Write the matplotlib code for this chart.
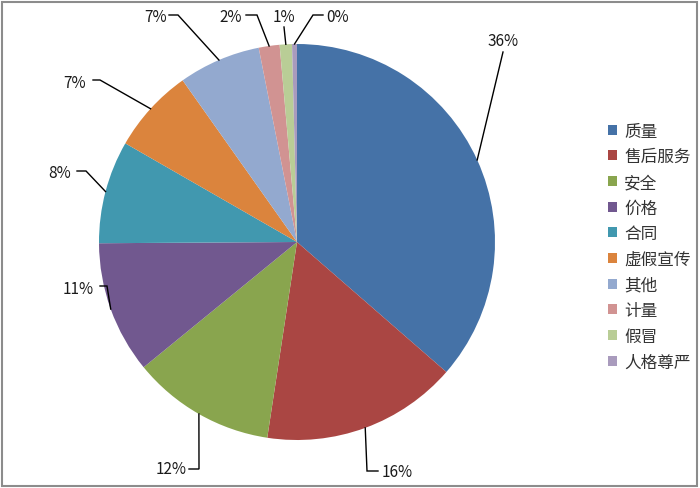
import numpy as np
import matplotlib
matplotlib.use("Agg")
import matplotlib.pyplot as plt
from matplotlib.patches import Rectangle

plt.rcParams['font.family'] = ['Noto Sans CJK SC', 'DejaVu Sans']

# data
categories = ['质量', '售后服务', '安全', '价格', '合同', '虚假宣传', '其他', '计量', '假冒', '人格尊严']
shares = [36.4, 16.0, 11.7, 10.8, 8.4, 6.9, 6.7, 1.7, 1.0, 0.4]
colors = ['#4572A7', '#AA4643', '#89A54E', '#71588F', '#4198AF',
          '#DB843D', '#93A9CF', '#D19392', '#B9CD96', '#A99BBD']

# pie geometry in pixels (center, radius) -> data units
cx, cy, r = 297, 243, 198
W, H = 700, 489

def px(x, y):
    return ((x - cx) / r, (cy - y) / r)

# label layout: text center, then leader points after the slice edge (pixels)
label_text = [(503, 42), (397, 473), (171, 470), (78, 289), (60, 173),
              (75, 83), (156, 17), (231, 17), (284, 17), (338, 17)]
label_path = [[(503, 53)],
              [(367, 472), (378, 472)],
              [(199, 470), (189, 470)],
              [(107, 287), (100, 287)],
              [(86, 172), (77, 172)],
              [(100, 81), (93, 81)],
              [(178, 16), (169, 16)],
              [(257, 16), (246, 16)],
              [(284, 28)],
              [(313, 16), (323, 16)]]

fig = plt.figure(figsize=(7, 4.89), dpi=100)
ax = fig.add_axes([0, 0, 1, 1])

wedges, _ = ax.pie(shares, colors=colors, startangle=90, counterclock=False,
                   radius=1, center=(0, 0), wedgeprops=dict(linewidth=0))

total = sum(shares)
for i, w in enumerate(wedges):
    mid = np.deg2rad((w.theta1 + w.theta2) / 2)
    pts = [(np.cos(mid), np.sin(mid))] + [px(*p) for p in label_path[i]]
    xs, ys = zip(*pts)
    ax.plot(xs, ys, color='black', lw=1.0, solid_joinstyle='miter')
    tx, ty = px(*label_text[i])
    ax.text(tx, ty, '{:.0f}%'.format(shares[i] / total * 100),
            ha='center', va='center', fontsize=11, color='#1a1a1a')

x0, y0 = px(0, H)
x1, y1 = px(W, 0)
ax.set_xlim(x0, x1)
ax.set_ylim(y0, y1)
ax.set_aspect('auto')
ax.axis('off')

leg = ax.legend(wedges, categories, loc='upper left',
                bbox_to_anchor=(601 / W, 1 - 117 / H), frameon=False,
                fontsize=12, handlelength=0.55, handleheight=0.55,
                handletextpad=0.45, labelspacing=0.52, borderaxespad=0)
for t in leg.get_texts():
    t.set_color('#333333')

fig.patches.append(Rectangle((2 / W, 2 / H), 1 - 5 / W, 1 - 5 / H,
                             transform=fig.transFigure, fill=False,
                             edgecolor='#8C8C8C', lw=1.5))

fig.savefig('out.png', dpi=100, facecolor='white')
